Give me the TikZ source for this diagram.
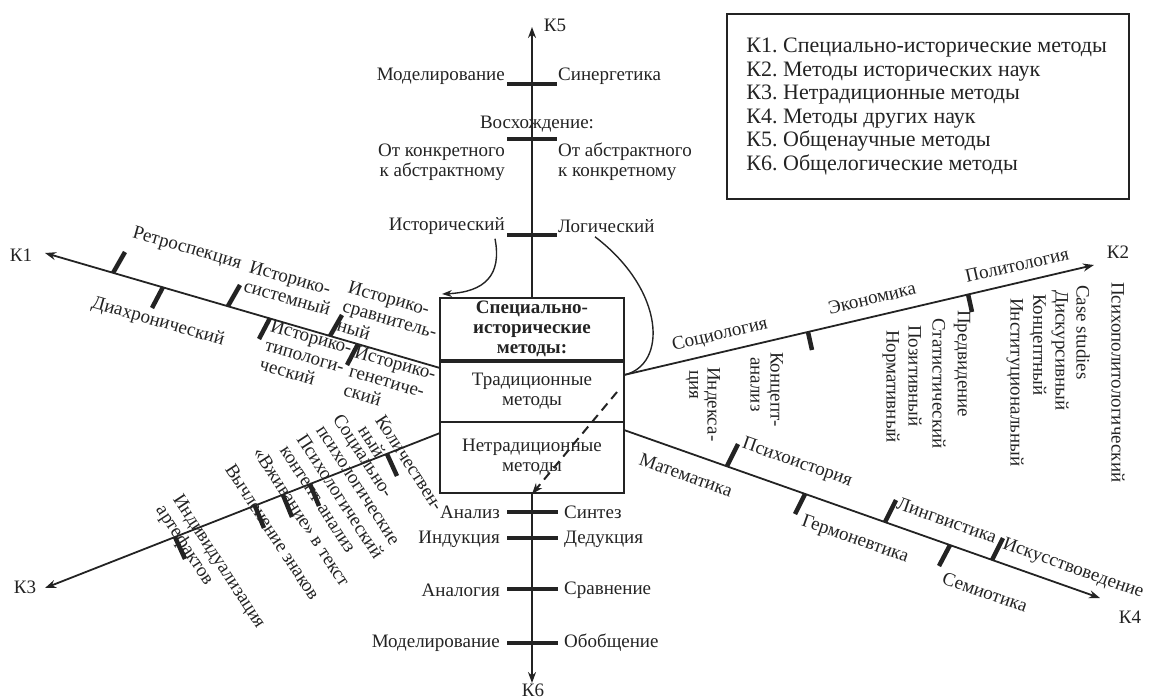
\documentclass[tikz,border=0pt]{standalone}
\usepackage{fontspec}
\setmainfont{Liberation Serif}
\usetikzlibrary{arrows.meta,calc}
\definecolor{ink}{RGB}{35,35,35}
\frenchspacing
\begin{document}
\begin{tikzpicture}[x=1pt,y=-1pt,
  every node/.style={text=ink, inner sep=0pt},
  lbl/.style={font=\fontsize{19}{20}\selectfont},
  axisline/.style={draw=ink, line width=1.8pt, -{Stealth[length=11pt,width=8pt]}},
  tickbar/.style={draw=ink, line width=4.5pt},
  boxpart/.style={draw=ink, line width=2pt, minimum width=184pt, align=center, font=\fontsize{19}{20}\selectfont},
  vlab/.style={lbl, rotate=-90, anchor=west},
  k1lab/.style={lbl, rotate=-16, align=left},
  k2lab/.style={lbl, rotate=13},
  k3lab/.style={lbl, rotate=-57, align=left, anchor=north west},
  k4lab/.style={lbl, rotate=-19.5},
  curve/.style={draw=ink, line width=1.4pt}]
\useasboundingbox (0,0) rectangle (1150,699);

% central box
\node[boxpart, minimum height=62pt, font=\bfseries\fontsize{19}{20}\selectfont] (head) at (532,329) {Специально-\\исторические\\методы:};
\node[boxpart, minimum height=62pt] (trad) at (532,391) {Традиционные\\методы};
\node[boxpart, minimum height=71pt] (nontrad) at (532,457.5) {Нетрадиционные\\методы};
\draw[ink, line width=4pt] (head.south west) -- (head.south east);

% axis end points
\coordinate (k5tip) at (532,27);
\coordinate (k6tip) at (532,683);
\coordinate (k1s) at (440,368);
\coordinate (k1tip) at (45,253);
\coordinate (k2s) at (624,375);
\coordinate (k2tip) at (1094,265);
\coordinate (k3s) at (440,433);
\coordinate (k3tip) at (45,588);
\coordinate (k4s) at (624,430);
\coordinate (k4tip) at (1100,598);

\draw[axisline] (head.north) -- (k5tip);
\draw[axisline] (nontrad.south) -- (k6tip);
\draw[axisline] (k1s) -- (k1tip);
\draw[axisline] (k2s) -- (k2tip);
\draw[axisline] (k3s) -- (k3tip);
\draw[axisline] (k4s) -- (k4tip);

% axis names
\node[lbl] (n5) at (555,25) {К5};
\node[lbl] (n6) at (533,690) {К6};
\node[lbl] (n1) at (21,255) {К1};
\node[lbl] (n2) at (1118,252) {К2};
\node[lbl] (n3) at (25,587) {К3};
\node[lbl] (n4) at (1130,617) {К4};

% K5 bars and labels
\foreach \yy in {84,139,235} \draw[tickbar] (507,\yy) -- (557,\yy);
\node[lbl, anchor=east] (a1) at (505,76) {Моделирование};
\node[lbl, anchor=west] (a2) at (558,76) {Синергетика};
\node[lbl] (a3) at (537,124) {Восхождение:};
\node[lbl, anchor=east, align=right] (a4) at (505,162) {От конкретного\\к абстрактному};
\node[lbl, anchor=west, align=left] (a5) at (558,162) {От абстрактного\\к конкретному};
\node[lbl, anchor=east] (a6) at (505,226) {Исторический};
\node[lbl, anchor=west] (a7) at (558,226) {Логический};

% K6 bars and labels
\foreach \yy in {512,538,589,643} \draw[tickbar] (507,\yy) -- (558,\yy);
\node[lbl, anchor=east] (b1) at (500,512) {Анализ};
\node[lbl, anchor=west] (b2) at (564,512) {Синтез};
\node[lbl, anchor=east] (b3) at (500,539) {Индукция};
\node[lbl, anchor=west] (b4) at (564,539) {Дедукция};
\node[lbl, anchor=east] (b5) at (500,590) {Аналогия};
\node[lbl, anchor=west] (b6) at (564,590) {Сравнение};
\node[lbl, anchor=east] (b7) at (500,643) {Моделирование};
\node[lbl, anchor=west] (b8) at (564,643) {Обобщение};

% curves
\draw[curve, -{Stealth[length=10pt,width=7pt]}] (a6.south east) ++(-10,4) coordinate (c1) .. controls (502,275) and (485,292) .. (442,294);
\draw[curve] (a7.south west) ++(37,4) coordinate (c2) .. controls (665,290) and (668,365) .. (k2s);
\draw[ink, line width=2pt, dash pattern=on 9pt off 6pt, -{Stealth[length=11pt,width=8pt]}] (617,392) coordinate (d1) -- (nontrad.south);

% K1 ticks and labels
\draw[tickbar] (113,273) -- ++(12,-21);
\draw[tickbar] (163,287) -- ++(-11,21);
\draw[tickbar] (228,306) -- ++(12,-21);
\draw[tickbar] (270,318) -- ++(-11,21);
\draw[tickbar] (330,336) -- ++(12,-21);
\draw[tickbar] (358,344) -- ++(-11,21);
\node[k1lab] (c1a) at (187,249) {Ретроспекция};
\node[k1lab] (c1b) at (158,322) {Диахронический};
\node[k1lab] (c1c) at (290,288) {Историко-\\системный};
\node[k1lab] (c1d) at (306,356) {Историко-\\типологи-\\ческий};
\node[k1lab] (c1e) at (390,319) {Историко-\\сравнитель-\\ный};
\node[k1lab] (c1f) at (390,382) {Историко-\\генетиче-\\ский};

% K2 ticks and labels
\draw[tickbar] (808,332) -- ++(4,18);
\draw[tickbar] (968,294) -- ++(4,18);
\node[k2lab] (e1) at (720,335) {Социология};
\node[k2lab] (e2) at (872,298) {Экономика};
\node[k2lab] (e3) at (1017,265) {Политология};
\node[vlab] (f1) at (712,367) {Индекса-};
\node[vlab] (f2) at (692,370) {ция};
\node[vlab] (f3) at (775,352) {Концепт-};
\node[vlab] (f4) at (755,357) {анализ};
\node[vlab] (f5) at (962,310) {Предвидение};
\node[vlab] (f6) at (939,318) {Статистический};
\node[vlab] (f7) at (915,325) {Позитивный};
\node[vlab] (f8) at (891,330) {Нормативный};
\node[vlab] (f9) at (1118,282) {Психополитологический};
\node[vlab] (f10) at (1083,285) {Case studies};
\node[vlab] (f11) at (1060,290) {Дискурсивный};
\node[vlab] (f12) at (1038,294) {Концептный};
\node[vlab] (f13) at (1015,298) {Институциональный};

% K3 ticks and labels
\draw[tickbar] (387,454) -- ++(10,22);
\draw[tickbar] (310,484) -- ++(9,22);
\draw[tickbar] (283,495) -- ++(9,22);
\draw[tickbar] (255,506) -- ++(9,22);
\draw[tickbar] (175,537) -- ++(10,22);
\node[k3lab] (g1) at (385,413) {Количествен-\\ный};
\node[k3lab] (g2) at (343,412) {Социально-\\психологические};
\node[k3lab] (g3) at (307,432) {Психологический\\контент-анализ};
\node[k3lab] (g4) at (263,445) {«Вживание» в текст};
\node[k3lab] (g5) at (235,462) {Вычленение знаков};
\node[k3lab] (g6) at (183,492) {Индивидуализация\\артефактов};

% K4 ticks and labels
\draw[tickbar] (727,466) -- ++(11,-22);
\draw[tickbar] (805,494) -- ++(-10,20);
\draw[tickbar] (885,522) -- ++(11,-22);
\draw[tickbar] (950,545) -- ++(-11,21);
\draw[tickbar] (992,560) -- ++(11,-22);
\node[k4lab] (h1) at (686,475) {Математика};
\node[k4lab] (h2) at (797,463) {Психоистория};
\node[k4lab] (h3) at (855,540) {Гермоневтика};
\node[k4lab] (h4) at (947,520) {Лингвистика};
\node[k4lab] (h5) at (985,592) {Семиотика};
\node[k4lab] (h6) at (1073,569) {Искусствоведение};

% legend
\node[draw=ink, line width=1.5pt, minimum width=402pt, minimum height=185pt] (legend) at (928,106.5) {};
\node[anchor=west, align=left, font=\fontsize{22}{23.6}\selectfont] (legtext) at ([xshift=20pt]legend.west)
{К1. Специально-исторические методы\\К2. Методы исторических наук\\К3. Нетрадиционные методы\\К4. Методы других наук\\К5. Общенаучные методы\\К6. Общелогические методы};
\end{tikzpicture}
\end{document}
